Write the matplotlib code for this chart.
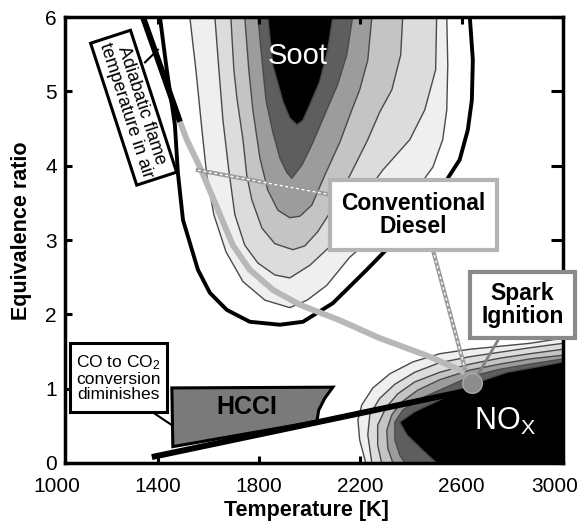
import matplotlib
matplotlib.use("Agg")
import matplotlib.pyplot as plt
from matplotlib.patches import Rectangle
from matplotlib.transforms import ScaledTranslation

plt.rcParams['font.family'] = ['Liberation Sans', 'DejaVu Sans']
plt.rcParams['mathtext.default'] = 'regular'

# soot iso-contours in (temperature K, equivalence ratio), outermost first
soot_T = [
    [1526, 1550, 1574, 1593, 1621, 1669, 1736, 1823, 1921, 1989, 2067, 2158, 2276, 2355, 2426, 2486, 2525, 2541, 2545, 2541],
    [1625, 1641, 1657, 1680, 1704, 1743, 1795, 1862, 1921, 2000, 2079, 2138, 2217, 2288, 2395, 2454, 2497, 2501],
    [1688, 1700, 1712, 1736, 1751, 1771, 1811, 1862, 1933, 1980, 2031, 2099, 2166, 2229, 2276, 2324, 2359, 2367],
    [1743, 1759, 1775, 1803, 1834, 1874, 1921, 1961, 2008, 2059, 2118, 2166, 2197, 2229, 2245],
    [1795, 1811, 1827, 1854, 1882, 1909, 1929, 1969, 2012, 2067, 2110, 2146, 2169],
    [1834, 1854, 1894, 1921, 1949, 1973, 2008, 2039, 2071, 2091],
]
soot_phi = [
    [6.0, 5.29, 4.48, 3.87, 3.34, 2.84, 2.44, 2.19, 2.09, 2.19, 2.39, 2.77, 3.11, 3.40, 3.70, 3.98, 4.35, 4.75, 5.35, 6.0],
    [6.0, 5.29, 4.61, 3.94, 3.34, 2.93, 2.69, 2.53, 2.49, 2.66, 2.91, 3.20, 3.61, 3.94, 4.35, 4.75, 5.29, 6.0],
    [6.0, 5.29, 4.91, 4.35, 3.87, 3.54, 3.16, 2.95, 2.87, 2.92, 3.11, 3.47, 3.92, 4.35, 4.72, 5.02, 5.49, 6.0],
    [6.0, 5.29, 4.75, 4.10, 3.67, 3.40, 3.30, 3.32, 3.47, 3.87, 4.31, 4.75, 5.02, 5.42, 6.0],
    [6.0, 5.42, 4.88, 4.45, 4.10, 3.91, 3.83, 4.01, 4.31, 4.75, 5.09, 5.49, 6.0],
    [6.0, 5.35, 4.86, 4.64, 4.55, 4.61, 4.88, 5.13, 5.56, 6.0],
]
# outer limit of the soot island
soot_edge_T = [1408, 1435, 1467, 1479, 1499, 1558, 1605, 1672, 1763, 1882, 1973, 2091,
               2225, 2328, 2395, 2474, 2541, 2592, 2624, 2640, 2644, 2632]
soot_edge_phi = [6.0, 5.29, 4.55, 3.90, 3.27, 2.60, 2.29, 2.06, 1.90, 1.86, 1.90, 2.15,
                 2.60, 2.96, 3.24, 3.54, 3.81, 4.08, 4.48, 4.88, 5.42, 6.0]

# NOx iso-contours, outermost first (closed on the lower right corner)
nox_T = [
    [3000, 2869, 2750, 2632, 2513, 2407, 2316, 2249, 2205, 2190, 2197, 2221],
    [3000, 2869, 2750, 2632, 2513, 2414, 2336, 2276, 2237, 2229, 2245],
    [3000, 2869, 2750, 2632, 2513, 2414, 2347, 2300, 2268, 2268, 2284],
    [3000, 2869, 2750, 2632, 2513, 2426, 2363, 2324, 2304, 2308, 2328],
    [3000, 2869, 2750, 2632, 2513, 2426, 2367, 2336, 2336, 2355, 2375],
    [3000, 2908, 2778, 2632, 2513, 2414, 2355, 2383, 2446, 2501],
]
nox_phi = [
    [1.68, 1.61, 1.57, 1.53, 1.47, 1.36, 1.20, 1.01, 0.78, 0.58, 0.31, 0.0],
    [1.61, 1.55, 1.49, 1.43, 1.35, 1.22, 1.06, 0.87, 0.65, 0.38, 0.0],
    [1.53, 1.47, 1.41, 1.33, 1.22, 1.09, 0.93, 0.74, 0.51, 0.24, 0.0],
    [1.45, 1.40, 1.33, 1.25, 1.12, 0.98, 0.82, 0.65, 0.44, 0.20, 0.0],
    [1.40, 1.33, 1.26, 1.16, 0.98, 0.85, 0.71, 0.55, 0.31, 0.11, 0.0],
    [1.36, 1.30, 1.22, 1.05, 0.85, 0.69, 0.55, 0.38, 0.17, 0.0],
]

# adiabatic flame temperature in air, then the conventional diesel path
flame_T = [1341, 1487]
flame_phi = [6.0, 4.59]
diesel_T = [1487, 1514, 1566, 1633, 1696, 1763, 1854, 1960, 2118, 2276, 2474, 2612]
diesel_phi = [4.59, 4.35, 3.98, 3.44, 2.93, 2.60, 2.33, 2.13, 1.92, 1.68, 1.43, 1.22]

# HCCI operating window
hcci_line_T = [1376, 2632]
hcci_line_phi = [0.08, 0.98]
hcci_T = [1455, 2091, 2059, 2035, 2028, 1459]
hcci_phi = [1.01, 1.02, 0.87, 0.71, 0.56, 0.22]

# spark ignition operating point
si_T = 2640
si_phi = 1.08

x_ticks = [1400, 1800, 2200, 2600, 3000]
y_ticks = [0, 1, 2, 3, 4, 5, 6]

shades = ['#efefef', '#dcdcdc', '#c4c4c4', '#9c9c9c', '#5e5e5e', '#000000']

fig = plt.figure(figsize=(5.84, 5.25), dpi=100)
ax = fig.add_axes([0.1113, 0.1181, 0.8527, 0.8495])
ax.set_xlim(1033, 3000)
ax.set_ylim(0, 6)

for Ts, ps, c in zip(soot_T, soot_phi, shades):
    ax.fill(Ts, ps, facecolor=c, edgecolor='#4a4a4a', lw=1.0, zorder=1)
ax.plot(soot_edge_T, soot_edge_phi, color='k', lw=2.8, zorder=1.5)

for Ts, ps, c in zip(nox_T, nox_phi, shades):
    ax.fill(Ts + [3000], ps + [0], facecolor=c, edgecolor='#4a4a4a', lw=1.0, zorder=1)

# HCCI box and its lean boundary line
ax.fill(hcci_T, hcci_phi, facecolor='#7a7a7a', edgecolor='k', lw=2.2, zorder=3)
ax.plot(hcci_line_T, hcci_line_phi, color='k', lw=4.3, solid_capstyle='butt', zorder=3.5)
ax.text(1751, 0.75, 'HCCI', fontsize=18, fontweight='bold', ha='center', va='center', zorder=4)

# flame temperature / diesel path
ax.plot(diesel_T, diesel_phi, color='#b8b8b8', lw=4.3, solid_capstyle='butt', zorder=3)
ax.plot(flame_T, flame_phi, color='k', lw=4.3, solid_capstyle='butt', zorder=3)

# pointers from the conventional diesel label
for xs, ys in [([1558, 2079], [3.94, 3.61]), ([2486, 2612], [2.87, 1.28])]:
    ax.plot(xs, ys, color='#9a9a9a', lw=3.0, zorder=3.2)
    ax.plot(xs, ys, color='white', lw=1.0, ls=(0, (2, 2)), zorder=3.3)
ax.plot([2743, 2659], [1.65, 1.16], color='#808080', lw=2.0, zorder=3.2)
ax.plot([1376, 1455], [0.69, 0.51], color='k', lw=1.5, zorder=3.2)
ax.plot([1349, 1400], [5.39, 5.56], color='k', lw=1.5, zorder=3.2)

ax.scatter([si_T], [si_phi], s=200, c='#8c8c8c', edgecolors='#a8a8a8', linewidths=1.0, zorder=4)

# region names
ax.text(1951, 5.47, 'Soot', color='white', fontsize=21, ha='center', va='center', zorder=4)
ax.text(2770, 0.44, 'NO$_X$', color='white', fontsize=22, ha='center', va='baseline', zorder=4)

# label boxes
ax.add_patch(Rectangle((2079, 2.87), 659, 0.94, facecolor='white', edgecolor='#b4b4b4', lw=3, zorder=5))
ax.text(2409, 3.34, 'Conventional\nDiesel', fontsize=16.5, fontweight='bold', ha='center', va='center',
        linespacing=1.0, zorder=6)

ax.add_patch(Rectangle((2632, 1.68), 415, 0.89, facecolor='white', edgecolor='#8a8a8a', lw=3,
                       zorder=5, clip_on=False))
ax.text(2839, 2.13, 'Spark\nIgnition', fontsize=16.5, fontweight='bold', ha='center', va='center',
        linespacing=1.0, zorder=6)

ax.add_patch(Rectangle((1053, 0.69), 383, 0.92, facecolor='white', edgecolor='k', lw=2.2, zorder=5))
ax.text(1244, 1.15, 'CO to CO$_2$\nconversion\ndiminishes', fontsize=12.5, ha='center', va='center',
        linespacing=1.0, zorder=6)

ax.text(1304, 4.78, 'Adiabatic flame\ntemperature in air', fontsize=13, ha='center', va='center',
        rotation=-72, rotation_mode='anchor', linespacing=1.0, zorder=6,
        bbox=dict(boxstyle='square,pad=0.22', facecolor='white', edgecolor='k', lw=2.2))

# axes frame
for s in ax.spines.values():
    s.set_linewidth(2.5)
ax.set_xticks(x_ticks)
ax.set_yticks(y_ticks)
ax.tick_params(direction='in', length=5, width=2.2, labelsize=15, top=True, right=True)
ax.tick_params(axis='x', pad=10)
ax.tick_params(axis='y', pad=6)
for t in ax.yaxis.get_major_ticks():
    t.tick2line.set_markersize(9)
# keep the last temperature label inside the canvas
last = ax.get_xticklabels()[-1]
last.set_transform(last.get_transform() + ScaledTranslation(-8 / 100, 0, fig.dpi_scale_trans))
ax.annotate('1000', xy=(1000, 0), xycoords=('data', 'axes fraction'), xytext=(0, -10),
            textcoords='offset points', ha='center', va='top', fontsize=15, annotation_clip=False)

ax.set_xlabel('Temperature [K]', fontsize=15.5, fontweight='bold')
ax.set_ylabel('Equivalence ratio', fontsize=15.5, fontweight='bold')
ax.xaxis.set_label_coords(0.484, -0.082)
ax.yaxis.set_label_coords(-0.066, 0.52)

fig.savefig('out.png', dpi=100)
